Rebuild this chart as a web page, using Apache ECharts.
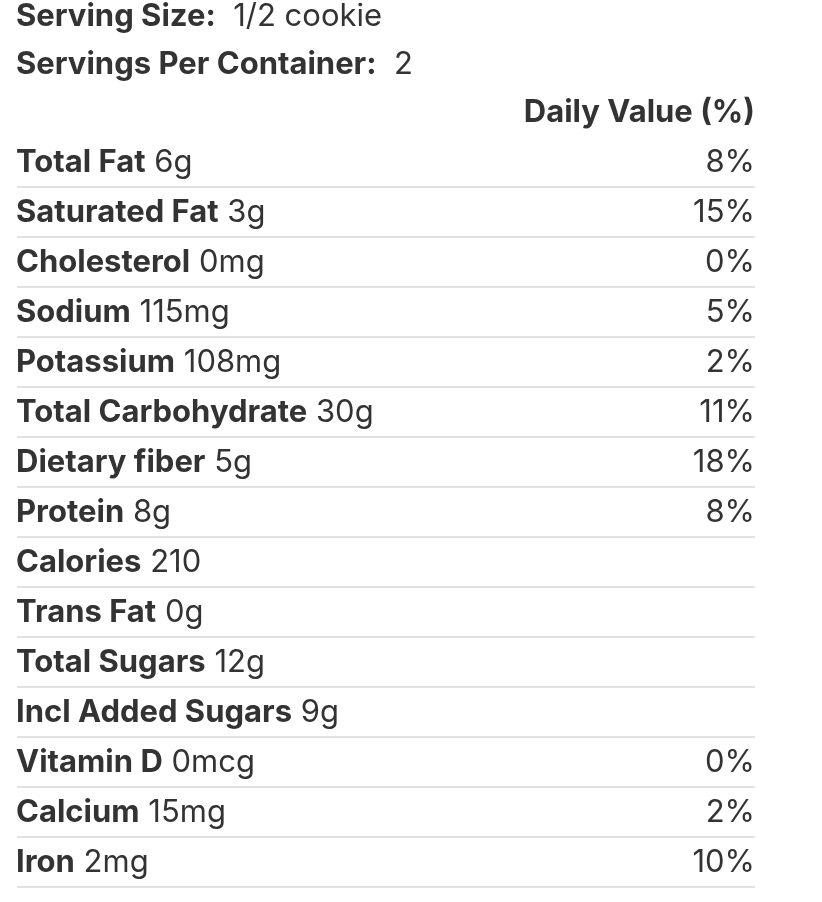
<!DOCTYPE html>
<html><head><meta charset="utf-8">
<script src="https://cdn.jsdelivr.net/npm/echarts@6/dist/echarts.min.js"></script>
<style>html,body{margin:0;background:#fff}#c{width:822px;height:902px}</style>
</head><body><div id="c"></div>
<script>
const nutrients = ["Total Fat","Saturated Fat","Cholesterol","Sodium","Potassium","Total Carbohydrate","Dietary fiber","Protein","Calories","Trans Fat","Total Sugars","Incl Added Sugars","Vitamin D","Calcium","Iron"];
const amounts = ["6g","3g","0mg","115mg","108mg","30g","5g","8g","210","0g","12g","9g","0mcg","15mg","2mg"];
const dailyValues = ["8%","15%","0%","5%","2%","11%","18%","8%","","","","","0%","2%","10%"];
const servingSize = "1/2 cookie";
const servingsPerContainer = "2";
const dvHeader = "Daily Value (%)";

const FONT = "Inter";
const FS = 31;
const COLOR = "#333";
const chart = echarts.init(document.getElementById('c'));
chart.setOption({
  animation:false,
  grid:{left:17,right:67,top:137,height:750},
  xAxis:{type:'value',min:0,max:1,show:false},
  yAxis:{type:'category',data:nutrients,inverse:true,show:false},
  graphic:[
    {type:'text',left:16,top:1,style:{text:'{b|Serving Size:}  '+servingSize,font:FS+'px '+FONT,fill:COLOR,
      rich:{b:{fontWeight:'bold',fontSize:FS,fontFamily:FONT,fill:COLOR}}}},
    {type:'text',left:16,top:49,style:{text:'{b|Servings Per Container:}  '+servingsPerContainer,font:FS+'px '+FONT,fill:COLOR,
      rich:{b:{fontWeight:'bold',fontSize:FS,fontFamily:FONT,fill:COLOR}}}},
    {type:'text',right:67,top:97,style:{text:dvHeader,font:'bold '+FS+'px '+FONT,fill:COLOR,align:'right'}}
  ],
  series:[{
    type:'custom',
    data:nutrients.map((n,i)=>[i]),
    encode:{y:0},
    renderItem:function(params,api){
      const i=api.value(0);
      const c=api.coord([0,i]);
      const r=api.coord([1,i]);
      const bw=api.size([0,1])[1];
      return {type:'group',children:[
        {type:'text',style:{x:c[0]-1,y:c[1]+1,text:'{b|'+nutrients[i]+'} '+amounts[i],verticalAlign:'middle',
          font:FS+'px '+FONT,fill:COLOR,rich:{b:{fontWeight:'bold',fontSize:FS,fontFamily:FONT,fill:COLOR}}}},
        {type:'text',style:{x:r[0],y:c[1]+1,text:dailyValues[i],align:'right',verticalAlign:'middle',font:FS+'px '+FONT,fill:COLOR}},
        {type:'line',shape:{x1:c[0],y1:c[1]+bw/2,x2:r[0],y2:c[1]+bw/2},style:{stroke:'#d9d9d9',lineWidth:1.5}}
      ]};
    }
  }]
});
</script></body></html>
